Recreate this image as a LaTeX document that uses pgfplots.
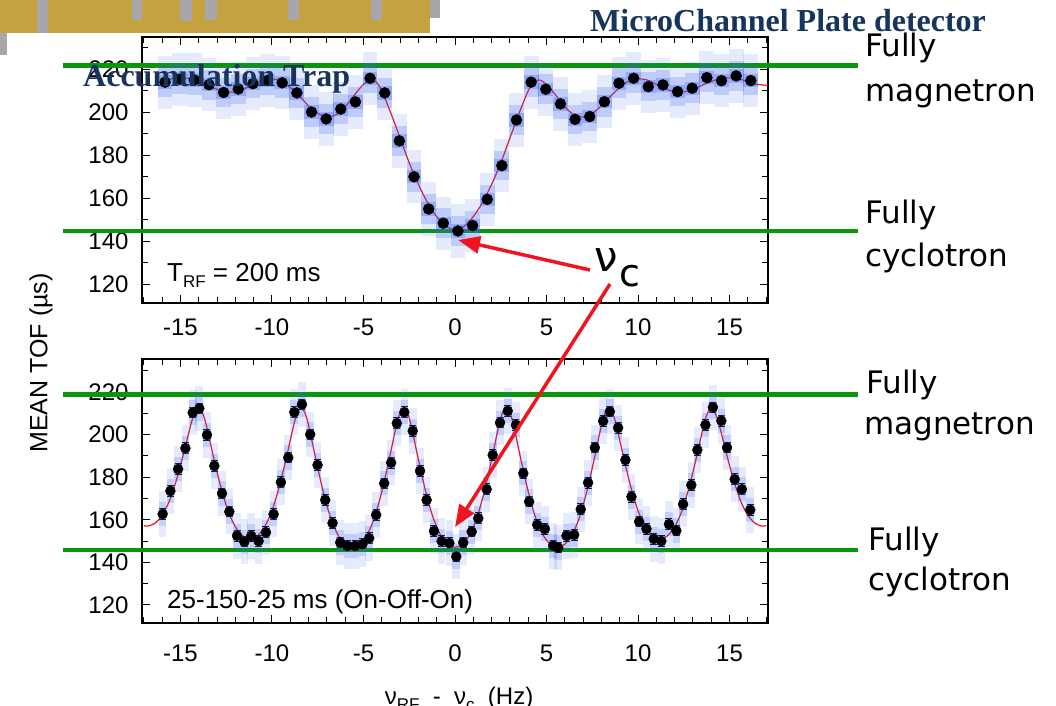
\documentclass[border=0pt]{standalone}
\usepackage{fontspec}
\setmainfont{Liberation Sans}
\newfontfamily\dejavu{DejaVu Sans}
\newfontfamily\hdrfont{Liberation Serif}
\usepackage{pgfplots}
\pgfplotsset{compat=1.18}
\usetikzlibrary{arrows.meta}
\definecolor{fitred}{RGB}{240,20,30}
\definecolor{lgreen}{RGB}{10,150,10}
\definecolor{hblue}{RGB}{60,100,240}
\definecolor{gold}{RGB}{196,162,64}
\definecolor{slgrey}{RGB}{168,166,170}
\definecolor{navy}{RGB}{22,52,92}

\pgfplotstableread{
x y
-15.84 214
-15.04 215.4
-14.24 215
-13.44 212.8
-12.64 209.2
-11.84 210.8
-11.04 213.3
-10.24 214.8
-9.44 213.7
-8.64 209
-7.84 200.1
-7.04 196.9
-6.24 201.5
-5.44 204.8
-4.64 215.8
-3.84 209
-3.04 186.7
-2.24 170
-1.44 155
-0.64 148.4
0.16 144.8
0.96 147.3
1.76 159.5
2.56 175.2
3.36 196.4
4.16 214
4.96 210.7
5.76 203.9
6.56 196.7
7.36 198
8.16 204.9
8.96 213.5
9.76 215.8
10.56 211.9
11.36 212.7
12.16 209.6
12.96 211.2
13.76 216.1
14.56 214.7
15.36 216.9
16.16 214.7
}\topdata

\pgfplotstableread{
x y
-15.97 162.7
-15.55 173.5
-15.13 183.8
-14.73 193.6
-14.33 210.3
-13.97 212.3
-13.55 199.8
-13.15 185.3
-12.73 172.4
-12.33 163.8
-11.91 152.5
-11.51 149.7
-11.13 152.4
-10.73 150
-10.33 154.1
-9.91 162.6
-9.51 177.6
-9.11 189.2
-8.78 210.5
-8.36 214.2
-7.91 200.1
-7.51 185.7
-7.09 169.3
-6.69 158.4
-6.27 149.3
-5.88 147.7
-5.46 147.7
-5.06 148.5
-4.69 151.3
-4.31 162.3
-3.87 177.1
-3.49 186.8
-3.18 205.3
-2.77 210.5
-2.31 201.7
-1.91 182.9
-1.55 169.3
-1.15 154.7
-0.73 150
-0.31 149
0.07 142.7
0.45 149.3
0.91 154.4
1.27 160.7
1.73 174.3
2.06 190.4
2.46 205.6
2.88 211.1
3.33 204.5
3.73 181.8
4.05 168.5
4.49 157.6
4.91 155.7
5.36 147.8
5.64 146.9
6.09 152.5
6.51 152.9
6.87 164.9
7.27 177.4
7.64 193.9
8.09 206.4
8.46 210.8
8.91 203.2
9.31 188.1
9.64 170.8
10.06 159.1
10.46 155.7
10.86 151
11.27 150
11.69 157.9
12.09 154.9
12.46 167.3
12.91 176.3
13.24 192.8
13.68 204.5
14.09 212.8
14.55 206.5
14.86 193.9
15.28 179
15.67 174.3
16.13 164.6
}\botdata

\pgfplotsset{
  tofaxis/.style={
    anchor=south west, scale only axis, width=626pt,
    xmin=-17.1, xmax=17.1, clip=false,
    axis line style={line width=1.6pt},
    xtick={-15,-10,...,15}, xticklabels={-15,-10,-5,0,5,10,15},
    minor xtick={-17,-16,...,17},
    ytick={120,140,...,220}, yticklabels={120,140,160,180,200,220},
    minor ytick={130,150,...,230},
    major tick length=8pt, minor tick length=6pt,
    tick style={line width=1pt, black},
    ticklabel style={font=\fontsize{24}{28}\selectfont},
    yticklabel style={xshift=-10pt},
  },
  hm/.style 2 args={only marks, mark=square*, mark options={draw opacity=0, line width=0pt, fill=hblue, fill opacity=#1, yscale=#2}},
}

\begin{document}
\begin{tikzpicture}
\useasboundingbox (0pt,0pt) rectangle (1056pt,705pt);
\fill[white] (0pt,0pt) rectangle (1056pt,705pt);
\begin{scope}[x=1pt,y=1pt]
\fill[gold] (0,672) rectangle (430,705);
\fill[slgrey] (37,672) rectangle (48,705);
\fill[slgrey] (132,685) rectangle (142,705);
\fill[slgrey] (180,684) rectangle (192,705);
\fill[slgrey] (205,685) rectangle (217,705);
\fill[slgrey] (288,685) rectangle (299,705);
\fill[slgrey] (371,685) rectangle (382,705);
\fill[slgrey] (430,687) rectangle (440,705);
\fill[slgrey] (0,650) rectangle (7,672);
\end{scope}

% top axis
\begin{axis}[tofaxis, at={(142pt,402pt)}, height=266pt, ymin=111.3, ymax=235.0,
  xticklabel style={yshift=-12pt}]
\addplot[hm={0.13}{3.6}, mark size=7.4pt] table {\topdata};
\addplot[hm={0.22}{2.0}, mark size=7.4pt] table {\topdata};
\addplot[hm={0.32}{0.9}, mark size=7.4pt] table {\topdata};
\addplot[fitred, line width=1.2pt, smooth, no marks] coordinates {
(-16.2,213.7) (-16.0,214.2) (-15.5,215.5) (-15.0,216) (-14.5,215.7) (-14.0,214.3)
(-13.5,212.5) (-13.0,210.7) (-12.5,209.5) (-12.0,209.5) (-11.5,211) (-11.0,213)
(-10.5,215) (-10.0,215.5) (-9.5,214.5) (-9.0,211.5) (-8.5,207.5) (-8.0,203)
(-7.5,199.5) (-7.0,197.8) (-6.5,198.8) (-6.0,202.5) (-5.5,208) (-5.0,213)
(-4.6,215) (-4.3,214) (-4.0,210) (-3.5,199.5) (-3.0,188) (-2.5,176.5)
(-2.0,166.5) (-1.5,158) (-1.0,151.5) (-0.5,147) (0,145.6)
(0.5,147) (1.0,151.5) (1.5,158) (2.0,166.5) (2.5,176.5) (3.0,188) (3.5,199.5)
(4.0,210) (4.3,214) (4.6,215) (5.0,213) (5.5,208) (6.0,202.5) (6.5,198.8)
(7.0,197.8) (7.5,199.5) (8.0,203) (8.5,207.5) (9.0,211.5) (9.5,214.5) (10.0,215.5)
(10.5,215) (11.0,213) (11.5,211) (12.0,209.5) (12.5,209.5) (13.0,210.7)
(13.5,212.5) (14.0,214.3) (14.5,215.7) (15.0,216) (15.5,215.5) (16.0,214.2)
(16.5,213) (17.1,212.5)};
\addplot[only marks, mark=*, mark size=5.5pt, black] table {\topdata};
\addplot[lgreen, line width=4.5pt, no marks] coordinates {(-21.44,221.7) (22.0,221.7)};
\addplot[lgreen, line width=4.5pt, no marks] coordinates {(-21.44,144.8) (22.0,144.8)};
\end{axis}

% bottom axis
\begin{axis}[tofaxis, at={(142pt,82pt)}, height=264pt, ymin=111.5, ymax=235.5,
  xticklabel style={yshift=-18pt}]
\addplot[hm={0.13}{6}, mark size=3.8pt] table {\botdata};
\addplot[hm={0.2}{3.2}, mark size=3.8pt] table {\botdata};
\addplot[hm={0.27}{1.4}, mark size=3.8pt] table {\botdata};
\addplot[fitred, line width=1.2pt, smooth, no marks] coordinates {
(-17.0,157.3) (-16.8,157) (-16.4,158.3) (-16.0,162.1) (-15.6,168.9) (-15.2,179.2)
(-14.8,192) (-14.4,205.7) (-14.2,210.2) (-14.0,212.5) (-13.8,210.2) (-13.6,204.9)
(-13.2,189.7) (-12.8,175.6) (-12.4,164.2) (-12.0,156.7) (-11.6,152.4) (-11.2,151)
(-10.8,152.4) (-10.4,156.7) (-10.0,164.2) (-9.6,175.6) (-9.2,189.7) (-8.8,204.9)
(-8.6,210.2) (-8.4,212.5) (-8.2,210.2) (-8.0,204.4) (-7.6,188.3) (-7.2,173.2)
(-6.8,161.1) (-6.4,153) (-6.0,148.5) (-5.6,147) (-5.2,148.5) (-4.8,153)
(-4.4,161.1) (-4.0,173.2) (-3.6,188.3) (-3.2,204.4) (-3.0,210.2) (-2.8,212.5)
(-2.6,210.2) (-2.4,204.4) (-2.0,188.3) (-1.6,173.2) (-1.2,161.1) (-0.8,153)
(-0.4,148.5) (0,147)
(0.4,148.5) (0.8,153) (1.2,161.1) (1.6,173.2) (2.0,188.3) (2.4,204.4) (2.6,210.2)
(2.8,212.5) (3.0,210.2) (3.2,204.4) (3.6,188.3) (4.0,173.2) (4.4,161.1) (4.8,153)
(5.2,148.5) (5.6,147) (6.0,148.5) (6.4,153) (6.8,161.1) (7.2,173.2) (7.6,188.3)
(8.0,204.4) (8.2,210.2) (8.4,212.5) (8.6,210.2) (8.8,204.9) (9.2,189.7) (9.6,175.6)
(10.0,164.2) (10.4,156.7) (10.8,152.4) (11.2,151) (11.6,152.4) (12.0,156.7)
(12.4,164.2) (12.8,175.6) (13.2,189.7) (13.6,204.9) (13.8,210.2) (14.0,212.5)
(14.2,210.2) (14.4,205.7) (14.8,192) (15.2,179.2) (15.6,168.9) (16.0,162.1)
(16.4,158.3) (16.8,157) (17.0,157.3)};
\addplot[only marks, mark=*, mark size=5pt, black,
  error bars/.cd, y dir=both, y fixed=2.5,
  error bar style={line width=1pt, black},
  error mark options={rotate=90, mark size=3.5pt, line width=1pt, black}] table {\botdata};
\addplot[lgreen, line width=4.5pt, no marks] coordinates {(-21.44,218.9) (22.0,218.9)};
\addplot[lgreen, line width=4.5pt, no marks] coordinates {(-21.44,145.8) (22.0,145.8)};
\end{axis}

\begin{scope}[x=1pt,y=1pt]
% axis titles
\node[rotate=90, font=\fontsize{25}{30}\selectfont] at (41,342) {MEAN TOF (µs)};
\node[anchor=base, font=\fontsize{24}{28}\selectfont, inner sep=0] at (459,1)
  {ν\raisebox{-6pt}{\fontsize{17}{17}\selectfont RF}\ \ -\ \ ν\raisebox{-6pt}{\fontsize{17}{17}\selectfont c}\ \ (Hz)};

% in-plot labels
\node[anchor=base west, font=\fontsize{26}{30}\selectfont, inner sep=0] at (167,424)
  {T\raisebox{-6pt}{\fontsize{17}{17}\selectfont RF} = 200 ms};
\node[anchor=base west, font=\fontsize{26}{30}\selectfont, inner sep=0] at (167,97)
  {25-150-25 ms (On-Off-On)};

% right-side slide labels
\begin{scope}[every node/.style={anchor=base west, inner sep=0, font=\dejavu\fontsize{31}{36}\selectfont}]
\node at (865,648) {Fully};
\node at (865,603) {magnetron};
\node at (865,481) {Fully};
\node at (865,438) {cyclotron};
\node at (866,312) {Fully};
\node at (864,271) {magnetron};
\node at (868,155) {Fully};
\node at (868,115) {cyclotron};
\end{scope}

% nu_c annotation and arrows
\draw[fitred, line width=3.5pt, -{Triangle[length=22pt,width=17pt]}] (590,435) -- (458,465);
\draw[fitred, line width=3.5pt, -{Triangle[length=22pt,width=17pt]}] (610,421) -- (455,178);
\node[anchor=base west, inner sep=0, font=\dejavu\fontsize{42}{46}\selectfont] at (594,433) {ν};
\node[anchor=base west, inner sep=0, font=\dejavu\fontsize{38}{42}\selectfont] at (619,418) {c};

% slide titles
\node[anchor=base west, inner sep=0, text=navy, font=\hdrfont\bfseries\fontsize{32}{36}\selectfont] at (83,618) {Accumulation Trap};
\node[anchor=base west, inner sep=0, text=navy, font=\hdrfont\bfseries\fontsize{32}{36}\selectfont] at (590,673) {MicroChannel Plate detector};
\end{scope}
\end{tikzpicture}
\end{document}
